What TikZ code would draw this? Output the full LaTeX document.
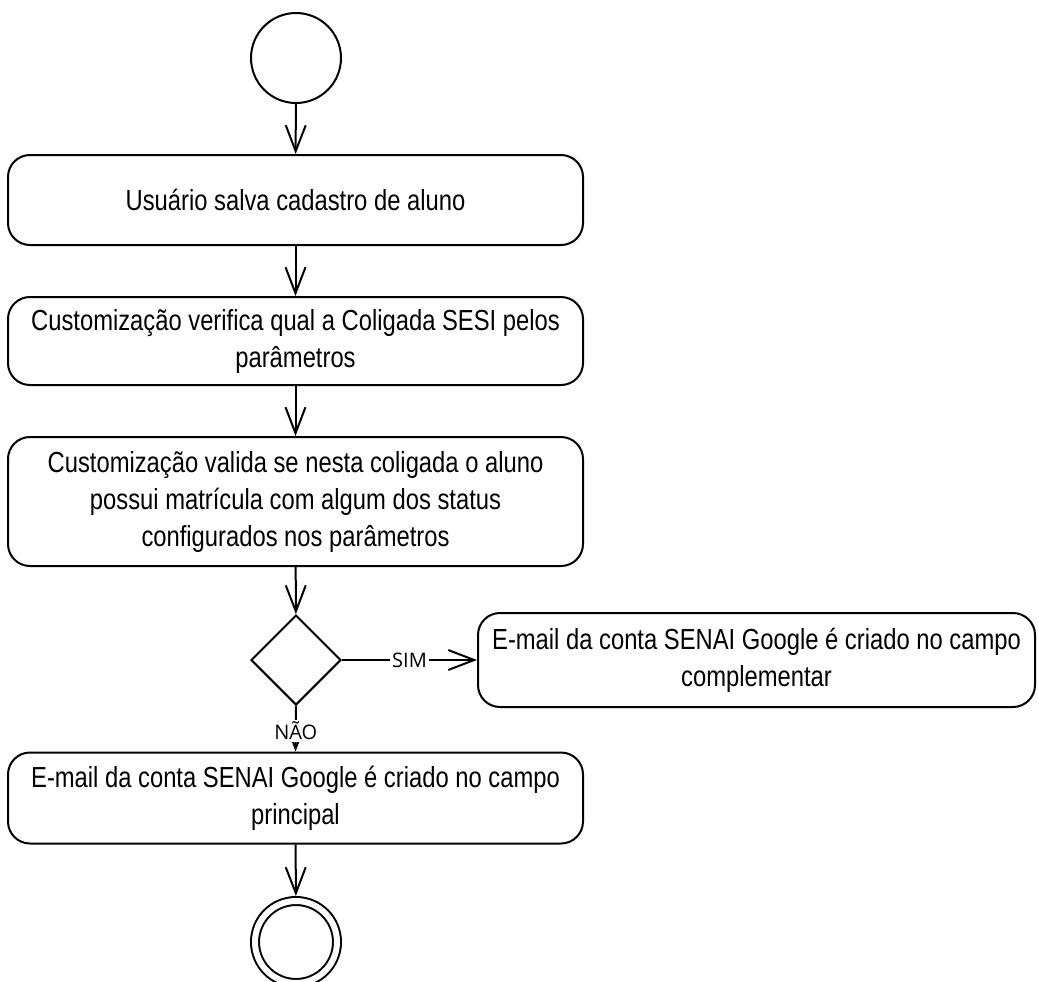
\documentclass[tikz,border=0pt]{standalone}
\usepackage{fontspec}
\setmainfont{Liberation Sans}[FakeStretch=0.82]
\newfontfamily\rotulofont{Open Sans}
\usetikzlibrary{arrows.meta}
\usetikzlibrary{shapes.geometric}
\tikzset{>={Straight Barb[length=13pt,width=10pt]}}
\tikzset{
  acao/.style={draw, line width=1pt, rounded corners=11pt, align=center,
    inner sep=0pt, font=\fontsize{14.5}{18.5}\selectfont},
  inicio/.style={circle, draw, line width=1pt, minimum size=45pt, inner sep=0pt},
  final/.style={circle, draw, line width=1pt, double, double distance=3pt,
    minimum size=41pt, inner sep=0pt, outer sep=2.5pt},
  decisao/.style={diamond, draw, line width=1pt, minimum width=45pt,
    minimum height=45pt, inner sep=0pt},
  rotulo/.style={fill=white, inner sep=1pt, font=\rotulofont\fontsize{10}{11}\selectfont},
  fluxo/.style={->, line width=1pt}
}

\begin{document}
\begin{tikzpicture}[x=0.5pt, y=-0.5pt]
      \useasboundingbox (0,0) rectangle (1039,981);
      % nodes
      \node[inicio] (inicio) at (296,58) {};
      \node[acao, minimum width=287.5pt, minimum height=45pt] (salva) at (295.5,200)
        {Usuário salva cadastro de aluno};
      \node[acao, minimum width=287.5pt, minimum height=44pt] (coligada) at (295.5,341)
        {Customização verifica qual a Coligada SESI pelos\\parâmetros};
      \node[acao, minimum width=287.5pt, minimum height=64.5pt] (valida) at (295.5,501.5)
        {Customização valida se nesta coligada o aluno\\possui matrícula com algum dos status\\configurados nos parâmetros};
      \node[decisao] (decisao) at (296,660) {};
      \node[acao, minimum width=278.5pt, minimum height=47pt] (complementar) at (756.5,660)
        {E-mail da conta SENAI Google é criado no campo\\complementar};
      \node[acao, minimum width=287.5pt, minimum height=45.5pt] (principal) at (295.5,798)
        {E-mail da conta SENAI Google é criado no campo\\principal};
      \node[final] (fim) at (296,942) {};
      % flows
      \draw[fluxo] (inicio) -- (salva);
      \draw[fluxo] (salva) -- (coligada);
      \draw[fluxo] (coligada) -- (valida);
      \draw[fluxo] (valida) -- (decisao);
      \draw[fluxo] (decisao.east) -- (complementar.west) node[rotulo, pos=0.5] {SIM};
      \draw[fluxo] (decisao.south) -- (principal.north) node[rotulo, pos=0.55] {NÃO};
      \draw[fluxo] (principal) -- (fim);
    \end{tikzpicture}
\end{document}
